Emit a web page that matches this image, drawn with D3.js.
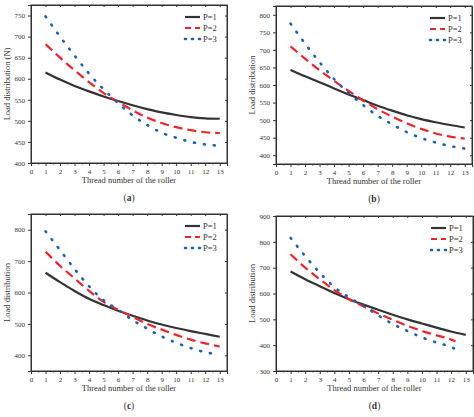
<!DOCTYPE html>
<html><head><meta charset="utf-8">
<script src="https://cdn.jsdelivr.net/npm/d3@7"></script>
<style>body{margin:0;background:#fff}text{font-family:"Liberation Serif",serif;fill:#333}</style>
</head><body><div class="content"></div>
<script>
const W = 474, H = 417;

const xTicks = d3.range(0, 14);
const seriesNames = ['P=1', 'P=2', 'P=3'];
const panelLabels = ['a', 'b', 'c', 'd'];
const yLabels = ['Load distribution (N)', 'Load distribution', 'Load distribution', 'Load distribution'];

const xs = d3.range(1, 14);
const aP1 = [615, 598, 583, 570, 558, 547, 537, 528, 520, 514, 509, 506, 505];
const aP2 = [682, 650, 620, 592, 566, 545, 525, 508, 495, 485, 478, 473, 471];
const aP3 = [748, 700, 655, 612, 575, 542, 513, 490, 472, 460, 450, 444, 441];
const bP1 = [643, 625, 608, 590, 573, 557, 541, 527, 514, 503, 494, 486, 479];
const bP2 = [710, 675, 642, 612, 583, 556, 531, 510, 491, 475, 462, 453, 447];
const bP3 = [775, 718, 665, 617, 577, 543, 512, 488, 466, 449, 436, 426, 419];
const cP1 = [663, 633, 605, 580, 560, 542, 526, 511, 498, 487, 477, 468, 459];
const cP2 = [730, 685, 645, 605, 570, 545, 522, 500, 482, 465, 450, 438, 428];
const cP3 = [795, 735, 675, 620, 575, 545, 512, 485, 460, 440, 423, 410, 402];
const dP1 = [685, 655, 628, 602, 578, 557, 537, 518, 500, 484, 468, 453, 440];
const dP2 = [752, 700, 655, 613, 578, 550, 523, 498, 475, 455, 438, 422, 414];
const dP3 = [815, 745, 680, 625, 585, 552, 515, 482, 455, 430, 410, 393, 385];

const yDomains = [[400, 775], [375, 825], [350, 850], [300, 900]];
const yTicks = [d3.range(400, 751, 50), d3.range(400, 801, 50), d3.range(400, 801, 100), d3.range(300, 901, 100)];
const xEnds = [13, 13, 13, 12.3];

const panelData = [[aP1, aP2, aP3], [bP1, bP2, bP3], [cP1, cP2, cP3], [dP1, dP2, dP3]];
// frame boxes in px: left, top, right, bottom
const boxes = [[31, 5, 227, 163], [276, 6, 472, 164], [31, 214, 227, 371], [276, 216, 473, 371]];

const colors = ['#333', '#e8262b', '#1f5fb0'];
const dashes = [null, '9,5', '1,9'];

const svg = d3.select('.content').append('svg').attr('width', W).attr('height', H);

panelData.forEach((series, i) => {
	const [l, t, r, b] = boxes[i];
	const x = d3.scaleLinear().domain([0, 13.5]).range([l, r]);
	const y = d3.scaleLinear().domain(yDomains[i]).range([b, t]);
	const g = svg.append('g');

	g.append('g').attr('transform', `translate(0,${b})`)
		.call(d3.axisBottom(x).tickValues(xTicks).tickSize(3).tickFormat(d3.format('d')));
	g.append('g').attr('transform', `translate(0,${b})`)
		.call(d3.axisBottom(x).tickValues(d3.range(0.5, 13.5, 1)).tickSize(1.5).tickFormat(''));
	g.append('g').attr('transform', `translate(${l},0)`)
		.call(d3.axisLeft(y).tickValues(yTicks[i]).tickSize(3));
	g.append('g').attr('transform', `translate(0,${t})`)
		.call(d3.axisBottom(x).tickValues(xTicks).tickSize(2).tickFormat(''));
	g.append('g').attr('transform', `translate(${r},0)`)
		.call(d3.axisLeft(y).tickValues(yTicks[i]).tickSize(2).tickFormat(''));
	g.selectAll('.domain').attr('stroke', '#333');
	g.selectAll('.tick line').attr('stroke', '#333');
	g.selectAll('.tick text').attr('font-size', 7).attr('font-family', '"Liberation Serif",serif').attr('fill', '#444');

	g.append('rect').attr('x', l).attr('y', t).attr('width', r - l).attr('height', b - t)
		.attr('fill', 'none').attr('stroke', '#333').attr('stroke-width', 1);

	const line = d3.line().x((d) => x(d[0])).y((d) => y(d[1])).curve(d3.curveMonotoneX);
	series.forEach((vals, k) => {
		const pts = vals.map((v, j) => [xs[j], v]);
		if (k > 0 && xEnds[i] < 13) pts[pts.length - 1][0] = xEnds[i];
		g.append('path').attr('d', line(pts)).attr('fill', 'none')
			.attr('stroke', colors[k]).attr('stroke-width', k === 2 ? 2.6 : 2.2)
			.attr('stroke-dasharray', dashes[k])
			.attr('stroke-linecap', k === 2 ? 'round' : 'butt');
	});

	seriesNames.forEach((n, k) => {
		const ly = t + 12 + k * 11;
		g.append('line').attr('x1', r - 42).attr('x2', r - 27).attr('y1', ly).attr('y2', ly)
			.attr('stroke', colors[k]).attr('stroke-width', k === 2 ? 2.6 : 2.2)
			.attr('stroke-dasharray', k === 1 ? '6,4' : (k === 2 ? '1,6' : null))
			.attr('stroke-linecap', k === 2 ? 'round' : 'butt');
		g.append('text').attr('x', r - 24).attr('y', ly + 3).attr('font-size', 8.5).text(n);
	});

	g.append('text').attr('x', (l + r) / 2).attr('y', b + 20).attr('text-anchor', 'middle')
		.attr('font-size', 8.5).text('Thread number of the roller');
	g.append('text').attr('transform', `translate(${l - 21},${(t + b) / 2}) rotate(-90)`)
		.attr('text-anchor', 'middle').attr('font-size', 8.5).text(yLabels[i]);
	const lab = g.append('text').attr('x', (l + r) / 2).attr('y', b + 38).attr('text-anchor', 'middle').attr('font-size', 9.5);
	lab.append('tspan').text('(');
	lab.append('tspan').attr('font-weight', 'bold').text(panelLabels[i]);
	lab.append('tspan').text(')');
});
</script></body></html>
